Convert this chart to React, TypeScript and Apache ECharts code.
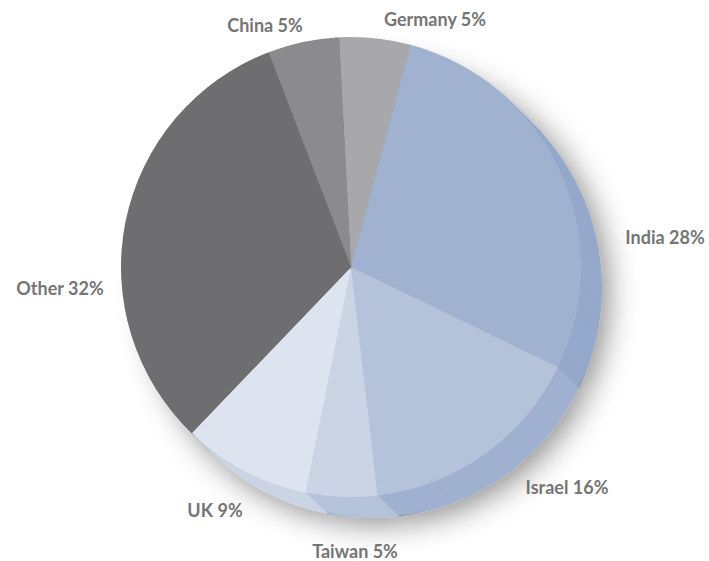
import React, { useEffect, useRef } from "react";
import * as echarts from "echarts";

// ---- data ----
const categories = ["Germany", "India", "Israel", "Taiwan", "UK", "Other", "China"];
const shares = [5, 28, 16, 5, 9, 32, 5];

// ---- styles / layout ----
const topColors = ["#a8a8aa", "#a1b1d0", "#b4c3da", "#cad4e4", "#dee4ef", "#6e6e70", "#8b8b8d"];
const sideColors = ["#98989a", "#94a9cb", "#a0b1d0", "#b4c3da", "#cbd4e4", "#5e5e60", "#7b7b7d"];
const labelAnchors: number[][] = [
  [435, 19],
  [665, 237],
  [567, 487],
  [355, 551],
  [215, 510],
  [60, 288],
  [265, 25],
];
const CX = 351;
const CY = 267;
const R = 230;
const DEPTH = 21;
const START = 93;

export default function App() {
  const ref = useRef<HTMLDivElement>(null);
  useEffect(() => {
    document.body.style.margin = "0";
    if (!ref.current) return;
    const chart = echarts.init(ref.current, undefined, { renderer: "svg" });
    const base = categories.map((name, i) => ({ name, value: shares[i] }));
    const series: any[] = [];
    for (let d = DEPTH; d >= 1; d--) {
      series.push({
        type: "pie",
        silent: true,
        startAngle: START,
        clockwise: true,
        radius: R,
        center: [CX + d, CY + d],
        z: DEPTH - d + 1,
        label: { show: false },
        labelLine: { show: false },
        emphasis: { disabled: true },
        data: base.map((p, i) => ({
          ...p,
          itemStyle: {
            color: sideColors[i],
            ...(d === DEPTH
              ? {
                  shadowBlur: 30,
                  shadowColor: "rgba(0,0,0,0.45)",
                  shadowOffsetX: 6,
                  shadowOffsetY: 6,
                }
              : {}),
          },
        })),
      });
    }
    series.push({
      type: "pie",
      silent: true,
      startAngle: START,
      clockwise: true,
      radius: R,
      center: [CX, CY],
      z: DEPTH + 5,
      avoidLabelOverlap: false,
      emphasis: { disabled: true },
      label: {
        show: true,
        position: "outside",
        formatter: "{b} {c}%",
        fontFamily: "Lato",
        fontWeight: "bold",
        fontSize: 18,
        color: "#757575",
      },
      labelLine: { show: false },
      labelLayout: (params: any) => ({
        x: labelAnchors[params.dataIndex][0],
        y: labelAnchors[params.dataIndex][1],
        align: "center",
        verticalAlign: "middle",
      }),
      data: base.map((p, i) => ({ ...p, itemStyle: { color: topColors[i] } })),
    });
    chart.setOption({
      animation: false,
      backgroundColor: "#ffffff",
      series,
    });
    return () => chart.dispose();
  }, []);
  return <div ref={ref} style={{ width: 709, height: 561 }} />;
}
